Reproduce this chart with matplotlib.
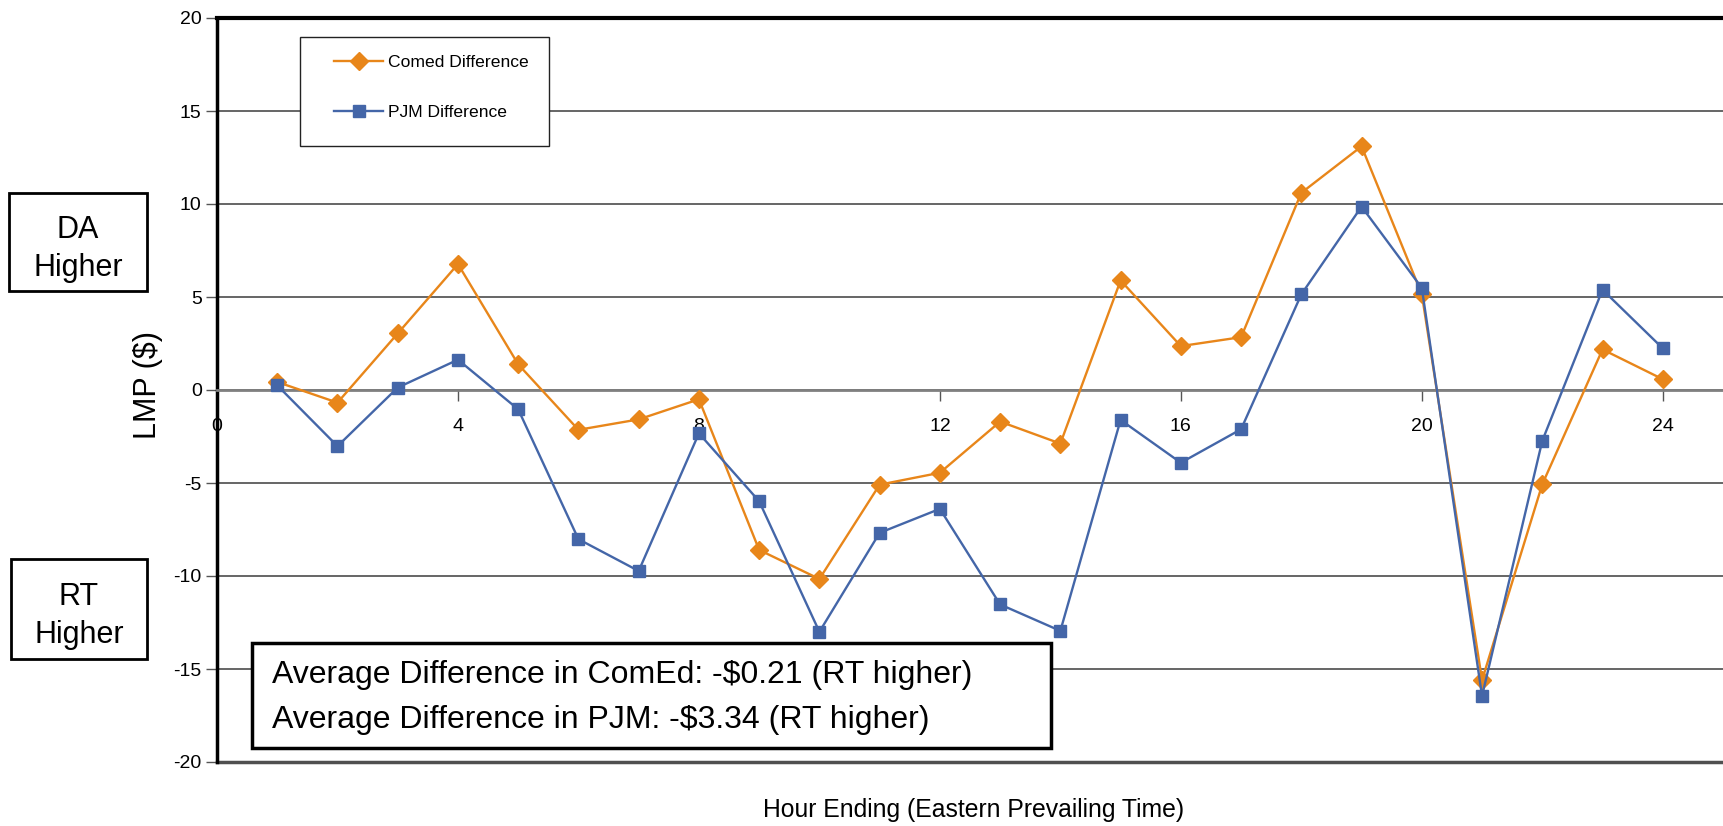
import matplotlib
matplotlib.use("Agg")
import matplotlib.pyplot as plt
from matplotlib.patches import Rectangle

# hourly DA - RT LMP differences ($), hour ending 1..24
hours = list(range(1, 25))
comed_diff = [0.43, -0.68, 3.04, 6.77, 1.38, -2.14, -1.58, -0.50, -8.60, -10.16, -5.09, -4.45,
              -1.70, -2.88, 5.89, 2.36, 2.84, 10.60, 13.10, 5.15, -15.60, -5.07, 2.18, 0.58]
pjm_diff = [0.25, -3.02, 0.13, 1.63, -1.04, -8.02, -9.73, -2.33, -5.98, -13.00, -7.68, -6.39,
            -11.53, -12.95, -1.61, -3.91, -2.11, 5.14, 9.86, 5.49, -16.45, -2.73, 5.39, 2.24]
series_labels = ['Comed Difference', 'PJM Difference']
x_ticks = [0, 4, 8, 12, 16, 20, 24]
y_ticks = [-20, -15, -10, -5, 0, 5, 10, 15, 20]
avg_lines = ['Average Difference in ComEd: -$0.21 (RT higher)',
             'Average Difference in PJM: -$3.34 (RT higher)']

ORANGE = '#E8861A'
BLUE = '#4466A8'
FONT = ['Liberation Sans', 'DejaVu Sans']

plt.rcParams['font.family'] = FONT
plt.rcParams['axes.unicode_minus'] = False

W, H = 1723, 826


def fx(x):
    return x / W


def fy(y):
    return 1 - y / H


fig = plt.figure(figsize=(W / 100, H / 100), dpi=100)
ax = fig.add_axes([fx(217), fy(762), 1 - fx(217), (762 - 18) / H])

ax.plot(hours, comed_diff, color=ORANGE, lw=1.7, marker='D', ms=9.5,
        label=series_labels[0], zorder=3)
ax.plot(hours, pjm_diff, color=BLUE, lw=1.7, marker='s', ms=9,
        label=series_labels[1], zorder=4)

ax.set_xlim(0, 25)
ax.set_ylim(-20, 20)
ax.set_xticks(x_ticks)
ax.set_yticks(y_ticks)
ax.yaxis.grid(True, color='#3c3c3c', lw=1.1)
ax.set_axisbelow(True)

ax.spines['bottom'].set_position(('data', 0))
ax.spines['bottom'].set_color('#808080')
ax.spines['bottom'].set_linewidth(2)
ax.spines['right'].set_visible(False)
ax.spines['top'].set_linewidth(3)
ax.spines['top'].set_color('black')
ax.spines['left'].set_linewidth(2.5)
ax.spines['left'].set_color('black')
ax.axhline(-20, color='#505050', lw=2.5, clip_on=False, zorder=2)

ax.tick_params(axis='x', direction='out', length=8, width=1, color='#555555', pad=12,
               labelsize=14)
ax.tick_params(axis='y', direction='out', length=8, width=1, color='#555555', pad=3,
               labelsize=14)

# legend frame drawn as its own patch so the inner padding matches
ax.add_patch(Rectangle((fx(300), fy(146)), (549 - 300) / W, (146 - 37) / H,
                       transform=fig.transFigure, fc='white', ec='#222222', lw=1,
                       clip_on=False, zorder=5))
leg = ax.legend(loc='upper left', bbox_to_anchor=(fx(334), fy(55)),
                bbox_transform=fig.transFigure, frameon=False, borderpad=0,
                borderaxespad=0, numpoints=1, handlelength=2.8, handletextpad=0.3,
                labelspacing=1.95, fontsize=12.6)
leg.set_zorder(6)

# side boxes
fig.add_artist(Rectangle((fx(9), fy(291)), 138 / W, 98 / H, transform=fig.transFigure,
                         fill=False, ec='black', lw=2))
fig.text(fx(78), fy(249), 'DA\nHigher', ha='center', va='center', fontsize=22,
         linespacing=1.38)
fig.add_artist(Rectangle((fx(11), fy(659)), 136 / W, 100 / H, transform=fig.transFigure,
                         fill=False, ec='black', lw=2))
fig.text(fx(79), fy(616), 'RT\nHigher', ha='center', va='center', fontsize=22,
         linespacing=1.38)

# averages box
fig.add_artist(Rectangle((fx(252), fy(748)), (1051 - 252) / W, (748 - 643) / H,
                         transform=fig.transFigure, fc='white', ec='black', lw=2.5,
                         zorder=6))
fig.text(fx(272), fy(675), avg_lines[0], ha='left', va='center', fontsize=23, zorder=7)
fig.text(fx(272), fy(720), avg_lines[1], ha='left', va='center', fontsize=23, zorder=7)

# axis titles
fig.text(fx(148), fy(385), 'LMP ($)', rotation=90, ha='center', va='center', fontsize=22)
fig.text(fx(974), fy(810), 'Hour Ending (Eastern Prevailing Time)', ha='center',
         va='center', fontsize=17.8)

fig.savefig('out.png', dpi=100, facecolor='white')
